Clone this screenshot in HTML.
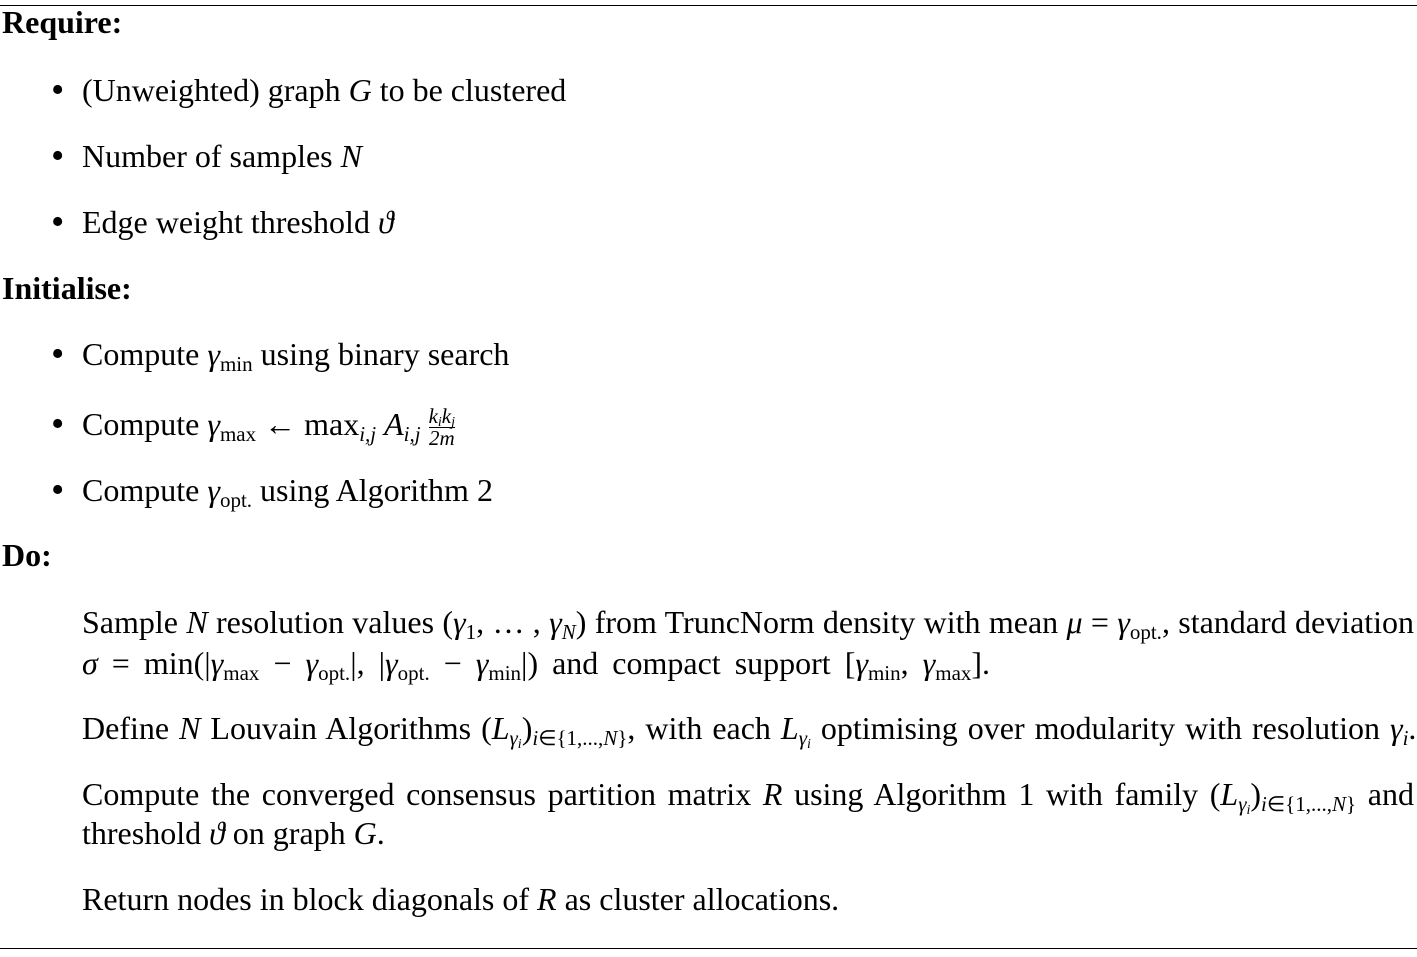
<!DOCTYPE html>
<html><head><meta charset="utf-8"><style>
body{margin:0;width:1417px;height:957px;background:#fff;position:relative;overflow:hidden;font-family:"Liberation Serif",serif;font-size:32px;color:#000}
.l{position:absolute;white-space:nowrap;line-height:32px}
.b{font-weight:bold}
.bul{position:absolute;left:51px;font-size:38px;line-height:32px}
i{font-style:italic}
sub{font-size:21px;vertical-align:-6px;line-height:0}
.j{text-align:justify;text-align-last:justify;width:1332px}
.rule{position:absolute;left:0;width:1417px;height:1px;background:#000}
.frac{display:inline-block;vertical-align:middle;text-align:center;font-size:21px;line-height:21px;font-style:italic}
.frac span{display:block}
.frac .n{border-bottom:1px solid #000}
.ss{font-size:14px;vertical-align:-3px}
</style></head><body>
<div class="rule" style="top:5px"></div>
<div class="rule" style="top:948px"></div>
<div class="l b" style="left:2px;top:6px">Require:</div>
<div class="bul" style="top:74px">•</div><div class="l" style="left:82px;top:74px">(Unweighted) graph <i>G</i> to be clustered</div>
<div class="bul" style="top:140px">•</div><div class="l" style="left:82px;top:140px">Number of samples <i>N</i></div>
<div class="bul" style="top:206px">•</div><div class="l" style="left:82px;top:206px">Edge weight threshold <i>ϑ</i></div>
<div class="l b" style="left:2px;top:272px">Initialise:</div>
<div class="bul" style="top:338px">•</div><div class="l" style="left:82px;top:338px">Compute <i>γ</i><sub>min</sub> using binary search</div>
<div class="bul" style="top:408px">•</div><div class="l" style="left:82px;top:406px">Compute <i>γ</i><sub>max</sub> ← max<sub><i>i,j</i></sub> <i>A</i><sub><i>i,j</i></sub> <span class="frac"><span class="n">k<sub class="ss">i</sub>k<sub class="ss">j</sub></span><span>2m</span></span></div>
<div class="bul" style="top:474px">•</div><div class="l" style="left:82px;top:474px">Compute <i>γ</i><sub>opt.</sub> using Algorithm 2</div>
<div class="l b" style="left:2px;top:539px">Do:</div>
<div class="l j" style="left:82px;top:606px">Sample <i>N</i> resolution values (<i>γ</i><sub>1</sub>, … , <i>γ</i><sub><i>N</i></sub>) from TruncNorm density with mean <i>μ</i> = <i>γ</i><sub>opt.</sub>, standard deviation</div>
<div class="l" style="left:82px;top:647px;word-spacing:6px"><i>σ</i> = min(|<i>γ</i><sub>max</sub> − <i>γ</i><sub>opt.</sub>|, |<i>γ</i><sub>opt.</sub> − <i>γ</i><sub>min</sub>|) and compact support [<i>γ</i><sub>min</sub>, <i>γ</i><sub>max</sub>].</div>
<div class="l" style="left:82px;top:712px;word-spacing:2px">Define <i>N</i> Louvain Algorithms (<i>L</i><sub><i>γ<sub class="ss">i</sub></i></sub>)<sub><i>i</i>∈{1,...,<i>N</i>}</sub>, with each <i>L</i><sub><i>γ<sub class="ss">i</sub></i></sub> optimising over modularity with resolution <i>γ<sub>i</sub></i>.</div>
<div class="l j" style="left:82px;top:778px">Compute the converged consensus partition matrix <i>R</i> using Algorithm 1 with family (<i>L</i><sub><i>γ<sub class="ss">i</sub></i></sub>)<sub><i>i</i>∈{1,...,<i>N</i>}</sub> and</div>
<div class="l" style="left:82px;top:817px">threshold <i>ϑ</i> on graph <i>G</i>.</div>
<div class="l" style="left:82px;top:883px">Return nodes in block diagonals of <i>R</i> as cluster allocations.</div>
</body></html>
